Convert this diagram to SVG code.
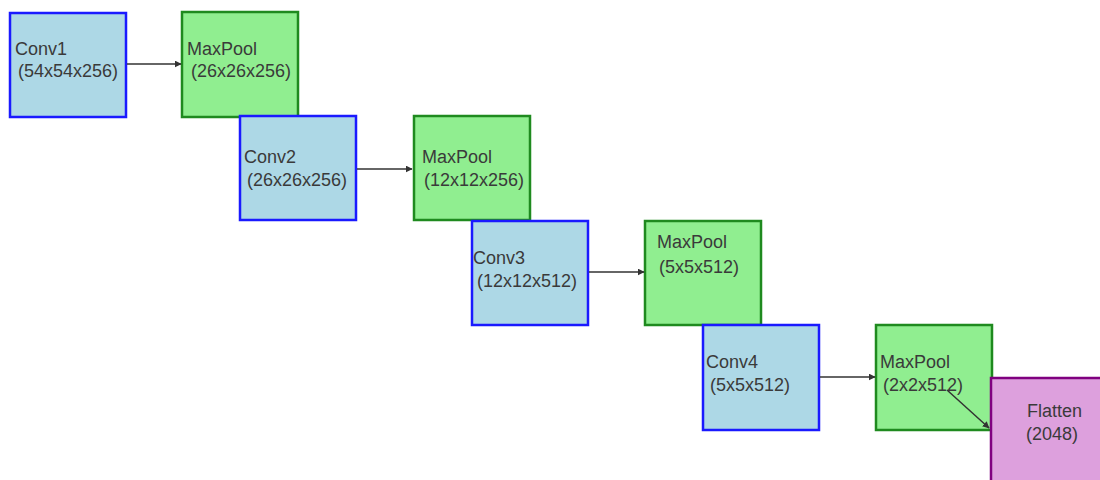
<svg xmlns="http://www.w3.org/2000/svg" width="1100" height="480" viewBox="0 0 1100 480">
  <defs>
    <marker id="arrow" viewBox="0 0 10 10" refX="9" refY="5" markerWidth="7" markerHeight="7" markerUnits="userSpaceOnUse" orient="auto">
      <path d="M0,0 L10,5 L0,10 z" fill="#333333"/>
    </marker>
  </defs>
  <style>
    .conv rect { fill: #add8e6; stroke: #1a1aff; stroke-width: 2.5; }
    .pool rect { fill: #90ee90; stroke: #1f8a1f; stroke-width: 2.5; }
    .flat rect { fill: #dda0dd; stroke: #800080; stroke-width: 2.5; }
    text { font-family: "Liberation Sans", Arial, sans-serif; font-size: 18px; fill: #3a3a3a; }
    .edge { stroke: #333333; stroke-width: 1.5; fill: none; marker-end: url(#arrow); }
  </style>

  <rect width="1100" height="480" fill="#ffffff"/>

  <g id="conv1" class="conv">
    <rect x="10" y="13" width="116" height="104"/>
    <text x="15" y="55">Conv1</text>
    <text x="18" y="77">(54x54x256)</text>
  </g>
  <g id="maxpool1" class="pool">
    <rect x="182" y="12" width="116" height="105"/>
    <text x="187" y="55">MaxPool</text>
    <text x="191" y="77">(26x26x256)</text>
  </g>
  <g id="conv2" class="conv">
    <rect x="240" y="116" width="116" height="104"/>
    <text x="244" y="163">Conv2</text>
    <text x="247" y="186">(26x26x256)</text>
  </g>
  <g id="maxpool2" class="pool">
    <rect x="414" y="116" width="116" height="104"/>
    <text x="422" y="163">MaxPool</text>
    <text x="424" y="186">(12x12x256)</text>
  </g>
  <g id="conv3" class="conv">
    <rect x="472" y="221" width="116" height="104"/>
    <text x="473" y="264">Conv3</text>
    <text x="477" y="287">(12x12x512)</text>
  </g>
  <g id="maxpool3" class="pool">
    <rect x="645" y="221" width="116" height="104"/>
    <text x="657" y="248">MaxPool</text>
    <text x="659" y="273">(5x5x512)</text>
  </g>
  <g id="conv4" class="conv">
    <rect x="703" y="325" width="116" height="105"/>
    <text x="706" y="368">Conv4</text>
    <text x="710" y="391">(5x5x512)</text>
  </g>
  <g id="maxpool4" class="pool">
    <rect x="876" y="325" width="116" height="105"/>
    <text x="880" y="368">MaxPool</text>
    <text x="883" y="391">(2x2x512)</text>
  </g>
  <g id="flatten" class="flat">
    <rect x="991" y="378" width="118" height="110"/>
    <text x="1027" y="417">Flatten</text>
    <text x="1026" y="440">(2048)</text>
  </g>

  <g id="connectors">
    <line class="edge" x1="127" y1="64" x2="181" y2="64"/>
    <line class="edge" x1="357" y1="169" x2="412" y2="169"/>
    <line class="edge" x1="589" y1="272" x2="644" y2="272"/>
    <line class="edge" x1="820" y1="377" x2="875" y2="377"/>
    <line class="edge" x1="947" y1="390" x2="989" y2="428"/>
  </g>
</svg>
